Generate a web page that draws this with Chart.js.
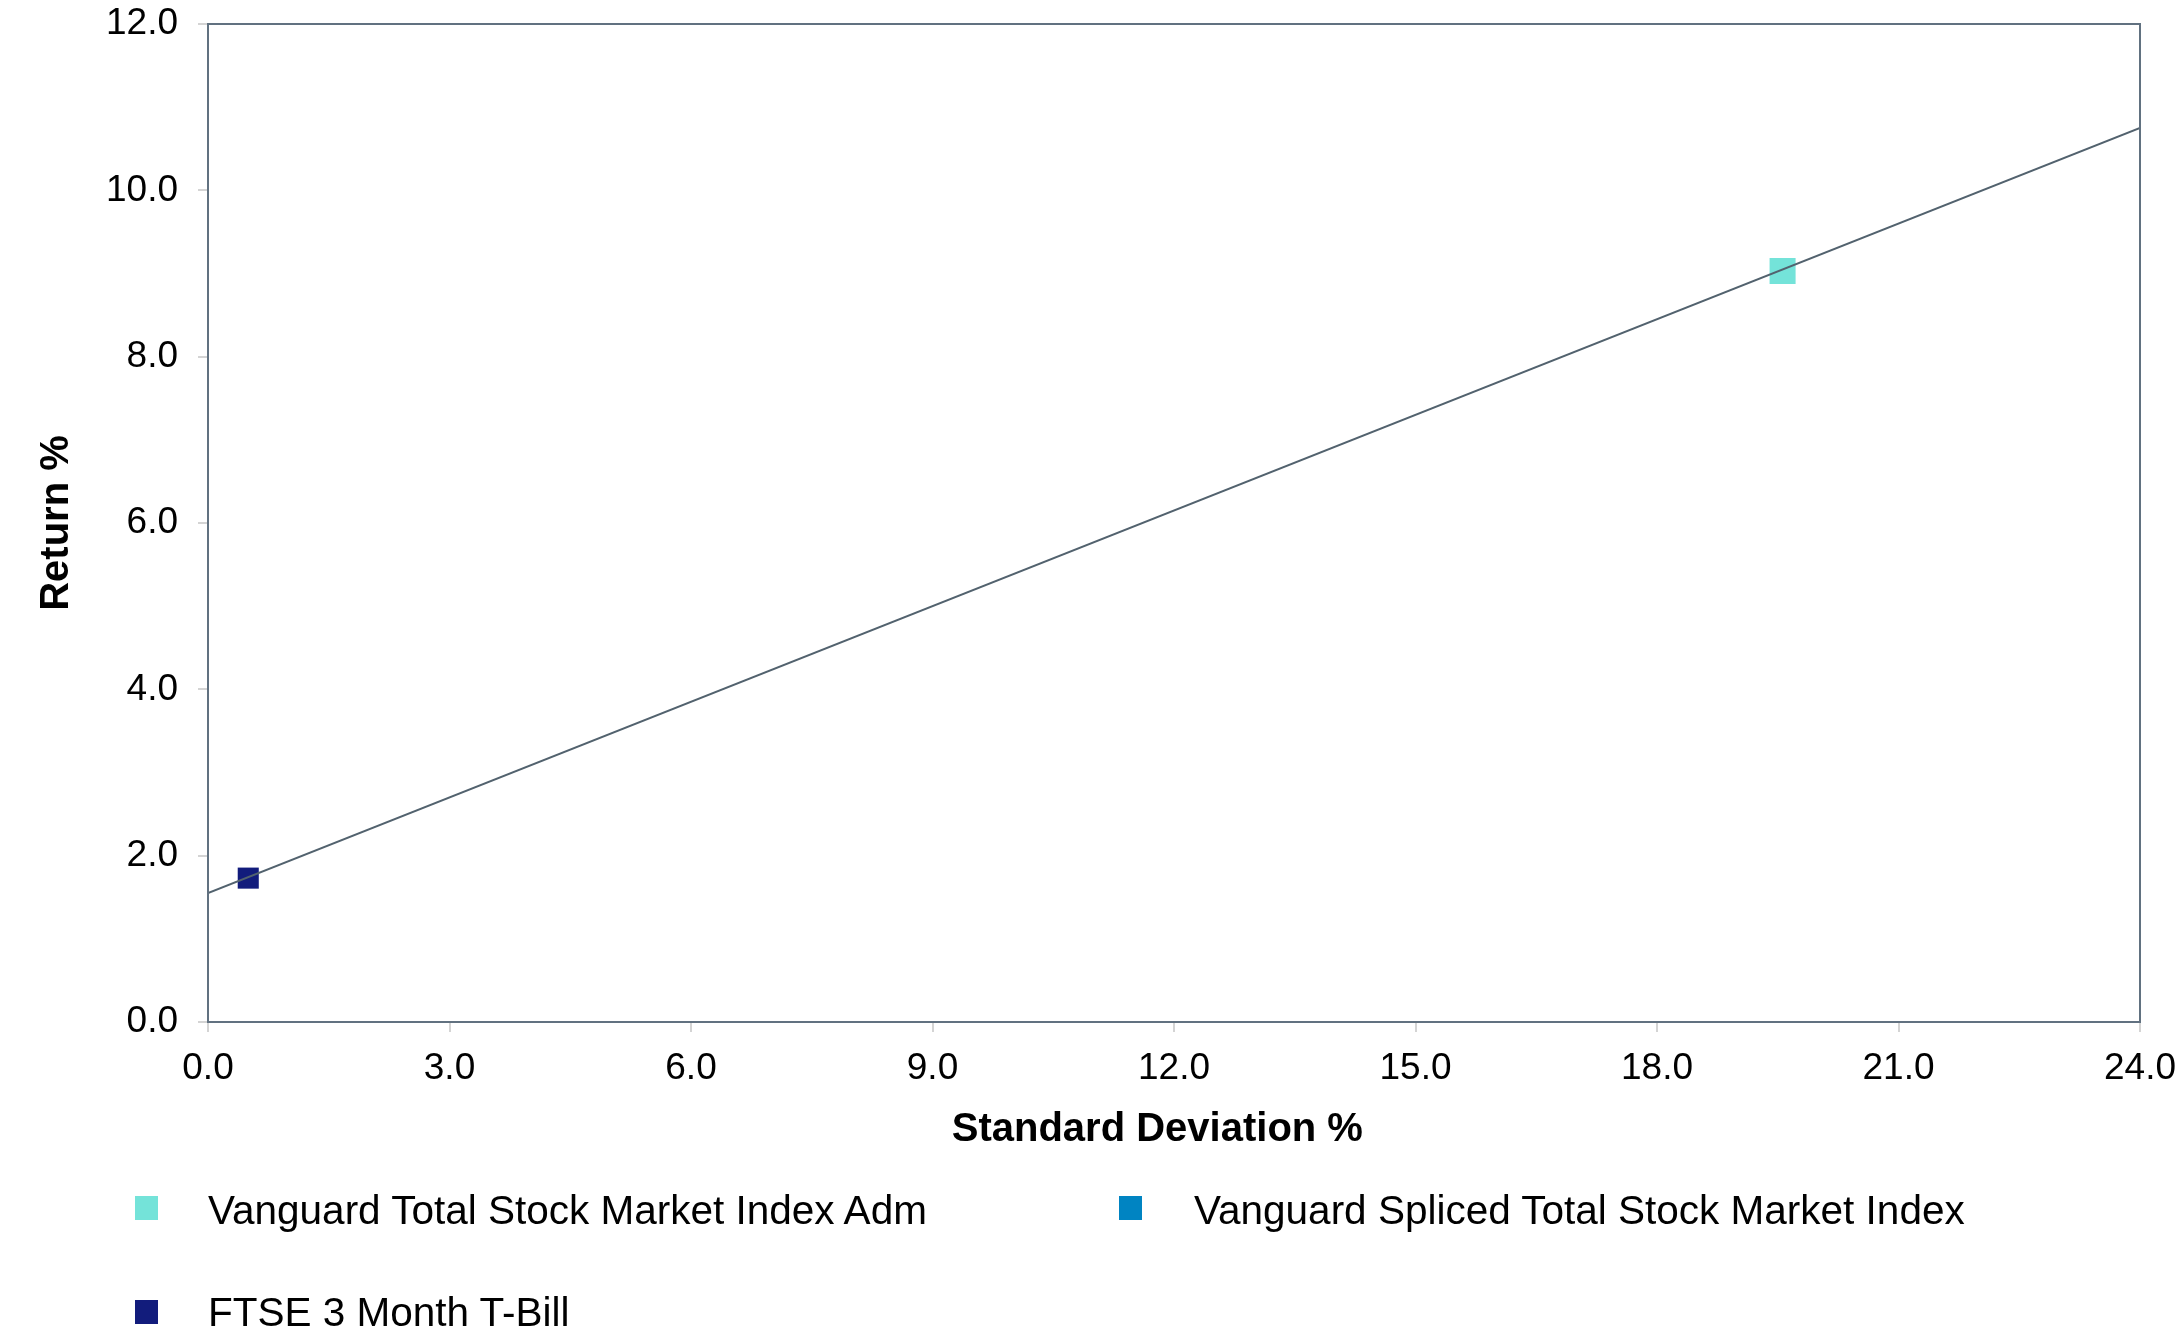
<!DOCTYPE html>
<html>
<head>
<meta charset="utf-8">
<script src="https://cdn.jsdelivr.net/npm/chart.js@4"></script>
<style>
    html, body { margin: 0; padding: 0; background: #fff; }
    #wrap { position: relative; width: 2177px; height: 1338px; }
    #risk-return { position: absolute; left: 0; top: 0; }
    .legend-item { position: absolute; font-family: 'Liberation Sans', Arial, sans-serif; font-size: 40.5px; color: #000; line-height: 48px; white-space: nowrap; }
    .legend-box { position: absolute; width: 23px; height: 24px; }
</style>
</head>
<body>
<div id="wrap">
    <canvas id="risk-return" width="2177" height="1338"></canvas>
</div>
<script>
// funds plotted as single points (std dev %, return %)
const fundNames = ['Vanguard Total Stock Market Index Adm', 'Vanguard Spliced Total Stock Market Index', 'FTSE 3 Month T-Bill'];
const fundStdDev = [19.56, 19.56, 0.50];
const fundReturn = [9.03, 9.03, 1.73];
const fundColors = ['#74e3d9', '#0084c2', '#121c7c'];
const fundSizes = [18.4, 15, 14.9];

// capital market line end points
const cmlStdDev = [0, 24];
const cmlReturn = [1.55, 10.75];

const xTicks = [0, 3, 6, 9, 12, 15, 18, 21, 24];
const yTicks = [0, 2, 4, 6, 8, 10, 12];

const FONT = "'Liberation Sans', Arial, sans-serif";

const frameBorder = {
    id: 'frameBorder',
    afterDatasetsDraw: function(chart) {
        const a = chart.chartArea;
        const ctx = chart.ctx;
        ctx.save();
        ctx.strokeStyle = '#617180';
        ctx.lineWidth = 2;
        ctx.strokeRect(a.left, a.top, a.right - a.left, a.bottom - a.top);
        ctx.restore();
    }
};

const datasets = [];
fundNames.forEach(function(name, i) {
    datasets.push({
        label: name,
        data: [{ x: fundStdDev[i], y: fundReturn[i] }],
        pointStyle: 'rect',
        pointRadius: fundSizes[i],
        pointHoverRadius: fundSizes[i],
        backgroundColor: fundColors[i],
        borderColor: fundColors[i],
        borderWidth: 0,
        order: 1
    });
});
datasets.push({
    label: 'line',
    data: cmlStdDev.map(function(x, i) { return { x: x, y: cmlReturn[i] }; }),
    showLine: true,
    pointRadius: 0,
    borderColor: '#52626e',
    borderWidth: 2,
    order: 0
});

new Chart(document.getElementById('risk-return'), {
    type: 'scatter',
    data: { datasets: datasets },
    options: {
        responsive: false,
        animation: false,
        layout: { padding: { top: 24, right: 37, left: 0, bottom: 178 } },
        plugins: {
            legend: { display: false },
            tooltip: { enabled: false }
        },
        scales: {
            x: {
                type: 'linear',
                min: 0,
                max: 24,
                afterFit: function(scale) {
                    scale.height = 138;
                    scale.paddingLeft = 0;
                    scale.paddingRight = 0;
                },
                afterBuildTicks: function(scale) {
                    scale.ticks = xTicks.map(function(v) { return { value: v }; });
                },
                border: { display: false },
                grid: { display: true, drawOnChartArea: false, tickLength: 10, color: '#d4d4d4', lineWidth: 2 },
                ticks: {
                    padding: 15,
                    color: '#000',
                    font: { family: FONT, size: 37 },
                    maxRotation: 0,
                    callback: function(v) { return v.toFixed(1); }
                },
                title: {
                    display: true,
                    // trailing spaces nudge the title a bit left of centre, like the original
                    text: 'Standard Deviation %\u00a0\u00a0\u00a0',
                    color: '#000',
                    font: { family: FONT, size: 40, weight: 'bold' },
                    padding: { top: 0, bottom: 6 }
                }
            },
            y: {
                type: 'linear',
                min: 0,
                max: 12,
                afterFit: function(scale) {
                    scale.width = 208;
                    scale.paddingTop = 0;
                    scale.paddingBottom = 0;
                },
                afterBuildTicks: function(scale) {
                    scale.ticks = yTicks.map(function(v) { return { value: v }; });
                },
                border: { display: false },
                grid: { display: true, drawOnChartArea: false, tickLength: 10, color: '#d4d4d4', lineWidth: 2 },
                ticks: {
                    padding: 20,
                    color: '#000',
                    font: { family: FONT, size: 37 },
                    callback: function(v) { return v.toFixed(1); }
                },
                title: {
                    display: true,
                    text: 'Return %',
                    color: '#000',
                    font: { family: FONT, size: 40, weight: 'bold' },
                    padding: { top: 33, bottom: 0 }
                }
            }
        }
    },
    plugins: [frameBorder]
});

// legend below the chart, two columns
const legendPos = [
    { box: [135, 1196], text: [208, 1186] },
    { box: [1119, 1196], text: [1194, 1186] },
    { box: [135, 1300], text: [208, 1288] }
];
const wrap = document.getElementById('wrap');
fundNames.forEach(function(name, i) {
    const box = document.createElement('span');
    box.className = 'legend-box';
    box.style.left = legendPos[i].box[0] + 'px';
    box.style.top = legendPos[i].box[1] + 'px';
    box.style.background = fundColors[i];
    wrap.appendChild(box);
    const txt = document.createElement('span');
    txt.className = 'legend-item';
    txt.style.left = legendPos[i].text[0] + 'px';
    txt.style.top = legendPos[i].text[1] + 'px';
    txt.textContent = name;
    wrap.appendChild(txt);
});
</script>
</body>
</html>
